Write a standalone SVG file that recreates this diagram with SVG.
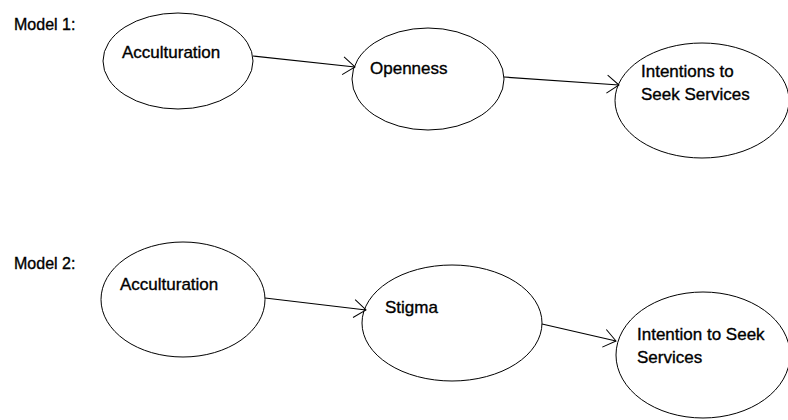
<svg xmlns="http://www.w3.org/2000/svg" width="788" height="420" viewBox="0 0 788 420">
  <style>
    .node { fill: #ffffff; stroke: #000000; stroke-width: 1; }
    .label { font-family: "Liberation Sans", Arial, sans-serif; font-size: 17px; fill: #000000; stroke: #000000; stroke-width: 0.35; }
    .title { font-family: "Liberation Sans", Arial, sans-serif; font-size: 16px; fill: #000000; stroke: #000000; stroke-width: 0.35; }
    .edge { fill: none; stroke: #000000; stroke-width: 1.2; marker-end: url(#open-arrow); }
  </style>
  <defs>
    <marker id="open-arrow" markerUnits="userSpaceOnUse" markerWidth="20" markerHeight="20" refX="0" refY="0" viewBox="-16 -10 18 20" orient="auto" overflow="visible">
      <path d="M -12 -9 L 0 0 L -12 9" fill="none" stroke="#000000" stroke-width="1"/>
    </marker>
  </defs>
  <rect width="788" height="420" fill="#ffffff"/>

  <text class="title" x="14" y="30">Model 1:</text>
  <text class="title" x="14" y="269">Model 2:</text>

  <!-- Model 1 -->
  <g id="m1-acculturation">
    <ellipse class="node" cx="178" cy="61" rx="75" ry="48"/>
    <text class="label" x="122" y="58">Acculturation</text>
  </g>
  <g id="m1-openness">
    <ellipse class="node" cx="428" cy="79" rx="76" ry="51"/>
    <text class="label" x="370" y="74">Openness</text>
  </g>
  <g id="m1-intentions">
    <ellipse class="node" cx="702" cy="100.5" rx="87" ry="57.5"/>
    <text class="label" x="641" y="77">Intentions to</text>
    <text class="label" x="641" y="100">Seek Services</text>
  </g>

  <!-- Model 2 -->
  <g id="m2-acculturation">
    <ellipse class="node" cx="183" cy="299.5" rx="82" ry="57.5"/>
    <text class="label" x="120" y="290">Acculturation</text>
  </g>
  <g id="m2-stigma">
    <ellipse class="node" cx="452" cy="323" rx="90" ry="58"/>
    <text class="label" x="385" y="313">Stigma</text>
  </g>
  <g id="m2-intention">
    <ellipse class="node" cx="703" cy="355" rx="87" ry="63"/>
    <text class="label" x="637" y="340">Intention to Seek</text>
    <text class="label" x="637" y="363">Services</text>
  </g>

  <g id="connectors">
    <line class="edge" x1="253" y1="56" x2="355" y2="67"/>
    <line class="edge" x1="504" y1="77" x2="619" y2="85"/>
    <line class="edge" x1="265" y1="298" x2="366" y2="310"/>
    <line class="edge" x1="542" y1="324" x2="616" y2="341"/>
  </g>
</svg>
